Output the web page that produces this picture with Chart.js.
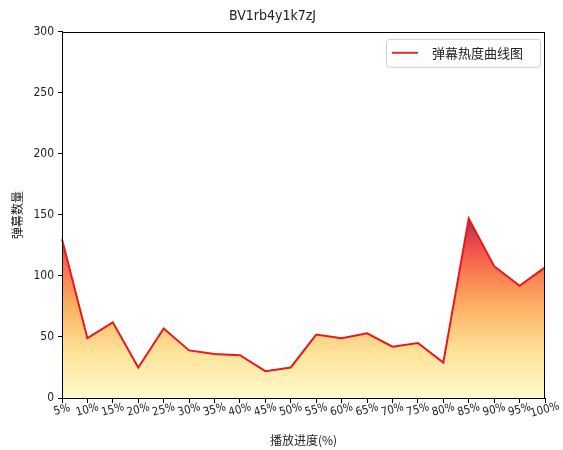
<!DOCTYPE html>
<html>
<head>
<meta charset="utf-8">
<script src="https://cdn.jsdelivr.net/npm/chart.js@4.4.0/dist/chart.umd.min.js"></script>
<style>
  html, body { margin: 0; padding: 0; background: #fff; }
  #wrap { width: 563px; height: 450px; }
</style>
</head>
<body>
<div id="wrap"><canvas id="chart"></canvas></div>
<script>
// data
const progressLabels = ['5%', '10%', '15%', '20%', '25%', '30%', '35%', '40%', '45%', '50%',
                        '55%', '60%', '65%', '70%', '75%', '80%', '85%', '90%', '95%', '100%'];
const danmakuCounts = [130, 49, 62, 25, 57, 39, 36, 35, 22, 25,
                       52, 49, 53, 42, 45, 29, 147, 108, 92, 107];
const yMin = 0;
const yMax = 300;
const yStep = 50;

const chartTitle = 'BV1rb4y1k7zJ';
const seriesName = '弹幕热度曲线图';
const xTitle = '播放进度(%)';
const yTitle = '弹幕数量';

const CJK = '"Noto Sans CJK SC", "DejaVu Sans", sans-serif';
const NUM = '"DejaVu Sans Condensed", "DejaVu Sans", sans-serif';

// gradient under the curve, light yellow at 0 up to dark red at the peak
function areaFill(context) {
    const chart = context.chart;
    const { ctx, chartArea, scales } = chart;
    if (!chartArea) return 'rgba(253,190,100,0.8)';
    const y0 = scales.y.getPixelForValue(0);
    const y1 = scales.y.getPixelForValue(Math.max(...danmakuCounts));
    const g = ctx.createLinearGradient(0, y0, 0, y1);
    g.addColorStop(0.0, '#fffacc');
    g.addColorStop(0.25, '#fee39a');
    g.addColorStop(0.5, '#fcb465');
    g.addColorStop(0.7, '#fb7a52');
    g.addColorStop(0.85, '#ee4c4a');
    g.addColorStop(1.0, '#a8305e');
    return g;
}

// box around the plot + rotated x labels + legend in the upper right
const framePlugin = {
    id: 'frame',
    afterDraw(chart) {
        const { ctx, chartArea: a, scales } = chart;
        ctx.save();
        ctx.strokeStyle = '#000';
        ctx.lineWidth = 1;
        ctx.strokeRect(Math.round(a.left) + 0.5, Math.round(a.top) + 0.5,
                       Math.round(a.right - a.left) - 1, Math.round(a.bottom - a.top));

        // x tick labels, tilted like the original
        ctx.fillStyle = '#222';
        ctx.font = '11.5px ' + NUM;
        ctx.textAlign = 'center';
        ctx.textBaseline = 'middle';
        progressLabels.forEach((lab, i) => {
            const x = scales.x.getPixelForTick(i);
            ctx.save();
            ctx.translate(x, a.bottom + 12);
            ctx.rotate(-15 * Math.PI / 180);
            ctx.fillText(lab, 0, 0);
            ctx.restore();
        });

        // legend
        const bx = a.right - 159, by = a.top + 7, bw = 154, bh = 28;
        ctx.beginPath();
        ctx.roundRect(bx + 0.5, by + 0.5, bw, bh, 3);
        ctx.fillStyle = 'rgba(255,255,255,0.85)';
        ctx.fill();
        ctx.strokeStyle = '#d0d0d0';
        ctx.stroke();
        ctx.beginPath();
        ctx.moveTo(bx + 6, by + 14);
        ctx.lineTo(bx + 32, by + 14);
        ctx.strokeStyle = '#e03030';
        ctx.lineWidth = 2;
        ctx.stroke();
        ctx.fillStyle = '#222';
        ctx.font = '13px ' + CJK;
        ctx.textAlign = 'left';
        ctx.fillText(seriesName, bx + 46, by + 14);
        ctx.restore();
    }
};

const chart = new Chart(document.getElementById('chart'), {
    type: 'line',
    data: {
        labels: progressLabels,
        datasets: [{
            label: seriesName,
            data: danmakuCounts,
            borderColor: '#e8191c',
            borderWidth: 2,
            backgroundColor: areaFill,
            fill: 'origin',
            pointRadius: 0,
            tension: 0
        }]
    },
    options: {
        responsive: true,
        maintainAspectRatio: false,
        animation: false,
        layout: { padding: { left: 0, right: 18, top: 0, bottom: 0 } },
        plugins: {
            legend: { display: false },
            tooltip: { enabled: false },
            title: {
                display: true,
                text: chartTitle,
                color: '#222',
                font: { family: NUM, size: 14, weight: 'normal' },
                padding: { top: 8, bottom: 7 }
            }
        },
        scales: {
            x: {
                offset: false,
                grid: { drawOnChartArea: false, drawTicks: true, tickLength: 5, color: '#000' },
                border: { color: '#000' },
                ticks: { display: false },
                title: {
                    display: true,
                    text: xTitle,
                    color: '#222',
                    font: { family: CJK, size: 12 },
                    padding: { top: 0, bottom: 2 }
                },
                afterFit(scale) { scale.height = 52; }
            },
            y: {
                min: yMin,
                max: yMax,
                grid: { drawOnChartArea: false, drawTicks: true, tickLength: 4, color: '#000' },
                border: { color: '#000' },
                ticks: {
                    stepSize: yStep,
                    color: '#222',
                    padding: 4,
                    font: { family: NUM, size: 12 }
                },
                title: {
                    display: true,
                    text: yTitle,
                    color: '#222',
                    font: { family: CJK, size: 12 },
                    padding: { top: 10, bottom: 0 }
                },
                afterFit(scale) { scale.width = 62; }
            }
        }
    },
    plugins: [framePlugin]
});
</script>
</body>
</html>
